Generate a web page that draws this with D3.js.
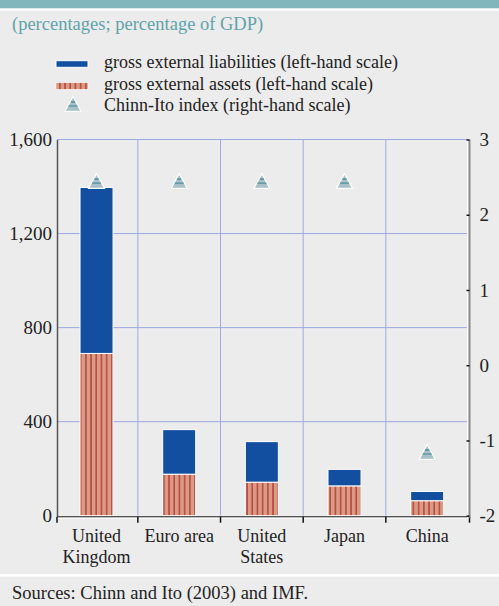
<!DOCTYPE html>
<html><head><meta charset="utf-8">
<script src="https://cdn.jsdelivr.net/npm/d3@7"></script>
<style>body{margin:0;background:#ececec}svg{display:block}</style>
</head><body>
<script>
const categories = [["United","Kingdom"],["Euro area"],["United","States"],["Japan"],["China"]];
const assets = [690, 176, 142, 126, 63];
const liabilities = [706, 190, 173, 71, 40];
const chinnIto = [2.44, 2.44, 2.44, 2.44, -1.16];
const leftTicks = [0, 400, 800, 1200, 1600];
const rightTicks = [-2, -1, 0, 1, 2, 3];

const W = 499, H = 606;
const svg = d3.select("body").append("svg").attr("width", W).attr("height", H);
const font = "'Liberation Serif','Times New Roman',serif";

svg.append("rect").attr("width", W).attr("height", H).attr("fill", "#ececec");
svg.append("rect").attr("width", W).attr("height", 8.5).attr("fill", "#80b6bc");
svg.append("rect").attr("y", 8.5).attr("width", W).attr("height", 2).attr("fill", "#ffffff");
svg.append("rect").attr("y", 574).attr("width", W).attr("height", 2.5).attr("fill", "#ffffff");

svg.append("text").attr("x", 12).attr("y", 30).attr("font-family", font).attr("font-size", 18.5)
  .attr("fill", "#5fa3aa").text("(percentages; percentage of GDP)");
svg.append("text").attr("x", 12).attr("y", 599).attr("font-family", font).attr("font-size", 18.5)
  .attr("fill", "#222").text("Sources: Chinn and Ito (2003) and IMF.");

const defs = svg.append("defs");
const pat = defs.append("pattern").attr("id", "hatch").attr("patternUnits", "userSpaceOnUse")
  .attr("width", 5.2).attr("height", 10);
pat.append("rect").attr("width", 5.2).attr("height", 10).attr("fill", "#d99a86");
pat.append("rect").attr("x", 2).attr("width", 1.3).attr("height", 10).attr("fill", "#b3372c");

const axL = 57, axR = 469.5, yTop = 139.5, yBot = 515.7;
const x = d3.scaleBand().domain(d3.range(categories.length)).range([55.2, 468.5]);
const yL = d3.scaleLinear().domain([0, 1600]).range([yBot, yTop]);
const yR = d3.scaleLinear().domain([-2, 3]).range([yBot, yTop]);

// grid
const g = svg.append("g");
g.selectAll("line.h").data(leftTicks.filter(d => d > 0)).join("line")
  .attr("x1", axL).attr("x2", axR - 2).attr("y1", d => yL(d)).attr("y2", d => yL(d))
  .attr("stroke", "#9eaae2").attr("stroke-width", 1);
g.selectAll("line.v").data(d3.range(1, categories.length)).join("line")
  .attr("x1", d => x(d)).attr("x2", d => x(d)).attr("y1", yTop).attr("y2", yBot)
  .attr("stroke", "#9eaae2").attr("stroke-width", 1);

// bars
const bw = 33;
const bars = svg.append("g");
categories.forEach((c, i) => {
  const cx = x(i) + x.bandwidth() / 2;
  bars.append("rect").attr("x", cx - bw / 2).attr("width", bw)
    .attr("y", yL(assets[i] + liabilities[i])).attr("height", yL(assets[i]) - yL(assets[i] + liabilities[i]))
    .attr("fill", "#124fa0").attr("stroke", "#ffffff").attr("stroke-width", 1);
  bars.append("rect").attr("x", cx - bw / 2).attr("width", bw)
    .attr("y", yL(assets[i])).attr("height", yL(0) - yL(assets[i]))
    .attr("fill", "url(#hatch)").attr("stroke", "#ffffff").attr("stroke-width", 1);
});

// triangles
function tri(sel, cx, cy) {
  const s = 8;
  sel.append("path").attr("d", `M${cx},${cy - s}L${cx + s},${cy + s * 0.85}L${cx - s},${cy + s * 0.85}Z`)
    .attr("fill", "#a9c0c8").attr("stroke", "#ffffff").attr("stroke-width", 1.2);
  sel.append("line").attr("x1", cx - 4.5).attr("x2", cx + 4.5).attr("y1", cy + 1.5).attr("y2", cy + 1.5)
    .attr("stroke", "#4f8f9c").attr("stroke-width", 1.2);
  sel.append("line").attr("x1", cx - 2).attr("x2", cx + 2).attr("y1", cy - 2.5).attr("y2", cy - 2.5)
    .attr("stroke", "#4f8f9c").attr("stroke-width", 1.5);
}
const tg = svg.append("g");
chinnIto.forEach((v, i) => tri(tg, x(i) + x.bandwidth() / 2, yR(v)));

// left axis
const la = svg.append("g").attr("transform", `translate(${axL},0)`)
  .call(d3.axisLeft(yL).tickValues(leftTicks).tickSize(0).tickPadding(5).tickFormat(d3.format(",")));
la.select(".domain").attr("stroke", "#555").attr("stroke-width", 1.5);
la.selectAll("text").attr("font-family", font).attr("font-size", 19).attr("fill", "#222");

// bottom axis
svg.append("line").attr("x1", axL).attr("x2", axR).attr("y1", yBot + 1).attr("y2", yBot + 1)
  .attr("stroke", "#555").attr("stroke-width", 1.5);
svg.append("line").attr("x1", axL).attr("x2", axR).attr("y1", yBot + 2.5).attr("y2", yBot + 2.5)
  .attr("stroke", "#fff").attr("stroke-width", 1);
const tickXs = [axL].concat(d3.range(1, categories.length).map(d => x(d)), [axR]);
svg.selectAll("line.bt").data(tickXs).join("line")
  .attr("x1", d => d).attr("x2", d => d)
  .attr("y1", yBot + 1).attr("y2", yBot + 7).attr("stroke", "#111").attr("stroke-width", 1.5);
const labels = svg.append("g");
categories.forEach((c, i) => {
  const cx = x(i) + x.bandwidth() / 2;
  const t = labels.append("text").attr("x", cx).attr("y", 542)
    .attr("text-anchor", "middle").attr("font-family", font).attr("font-size", 18).attr("fill", "#222");
  c.forEach((line, j) => t.append("tspan").attr("x", cx).attr("dy", j ? 21 : 0).text(line));
});

// right axis
svg.append("line").attr("x1", axR - 1.8).attr("x2", axR - 1.8).attr("y1", yTop).attr("y2", yBot + 2)
  .attr("stroke", "#fff").attr("stroke-width", 1.5);
const ra = svg.append("g").attr("transform", `translate(${axR},0)`)
  .call(d3.axisRight(yR).tickValues(rightTicks).tickSize(-3).tickPadding(10).tickFormat(d => String(d)));
ra.select(".domain").attr("stroke", "#8a8a8a").attr("stroke-width", 2).attr("d", `M0,${yTop}V${yBot + 2}`);
ra.selectAll(".tick line").attr("stroke", "#111").attr("stroke-width", 1.5);
ra.selectAll("text").attr("font-family", font).attr("font-size", 19).attr("fill", "#222");

// legend
const lg = svg.append("g");
lg.append("rect").attr("x", 56).attr("y", 60.7).attr("width", 32).attr("height", 6.6).attr("fill", "#124fa0")
  .attr("stroke", "#fff").attr("stroke-width", 1);
lg.append("rect").attr("x", 56).attr("y", 82.7).attr("width", 32).attr("height", 6.6).attr("fill", "url(#hatch)")
  .attr("stroke", "#fff").attr("stroke-width", 0.5);
tri(lg, 73, 104.5);
const legendText = ["gross external liabilities (left-hand scale)", "gross external assets (left-hand scale)", "Chinn-Ito index (right-hand scale)"];
lg.selectAll("text").data(legendText).join("text").attr("x", 104).attr("y", (d, i) => 68 + i * 21.5)
  .attr("font-family", font).attr("font-size", 18).attr("fill", "#222").text(d => d);
</script>
</body></html>
